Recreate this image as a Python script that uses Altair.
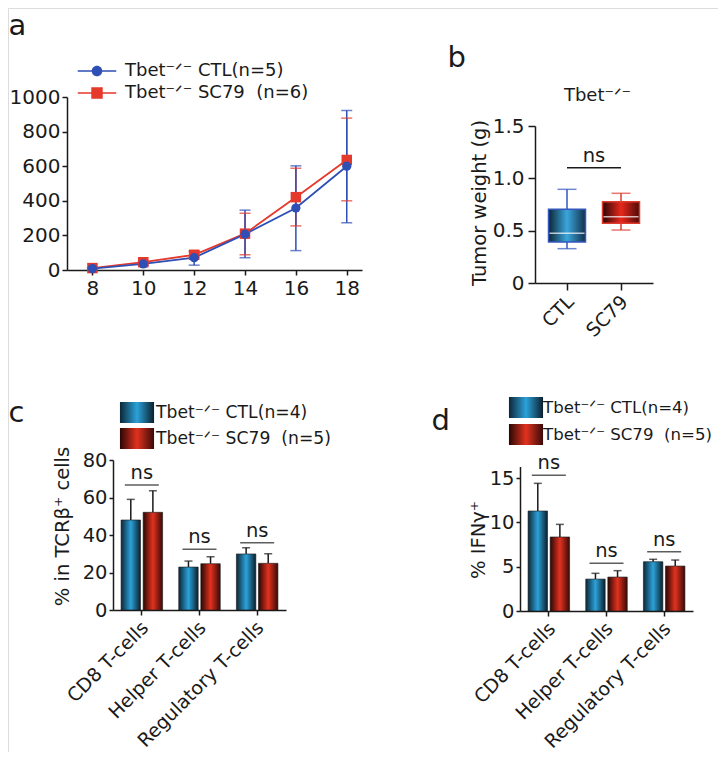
import altair as alt
import pandas as pd

FONT = "DejaVu Sans"
INK = "#1a1a1a"
BLUE = "#2d4fb6"
RED = "#e5392c"
SUP = "\u207b\u141f\u207b"  # superscript -/-
W, H = 710, 744

# ---------------- panel a: tumour growth ----------------
days = [8, 10, 12, 14, 16, 18]
a_series = ["Tbet" + SUP + " CTL(n=5)", "Tbet" + SUP + " SC79\u00a0 (n=6)"]
a_ctl_mean = [8, 35, 71, 207, 358, 600]
a_ctl_lo = [4, 27, 28, 71, 112, 273]
a_ctl_hi = [13, 43, 111, 346, 602, 922]
a_sc_mean = [11, 45, 88, 210, 421, 636]
a_sc_lo = [6, 37, 73, 88, 255, 400]
a_sc_hi = [16, 53, 106, 328, 588, 878]
a_yticks = [0, 200, 400, 600, 800, 1000]

# ---------------- panel b: tumour weight ----------------
b_groups = ["CTL", "SC79"]
b_title = "Tbet" + SUP
b_min = [0.328, 0.506]
b_q1 = [0.392, 0.570]
b_med = [0.475, 0.634]
b_q3 = [0.704, 0.777]
b_max = [0.895, 0.857]
b_ns = 1.10
b_yticks = [0, 0.5, 1.0, 1.5]

# ---------------- panels c, d: T-cell subsets ----------------
cell_types = ["CD8 T-cells", "Helper T-cells", "Regulatory T-cells"]
cd_series = ["Tbet" + SUP + " CTL(n=4)", "Tbet" + SUP + " SC79\u00a0 (n=5)"]
c_ctl = [48.0, 22.9, 29.9]
c_ctl_hi = [59.0, 26.1, 33.2]
c_sc = [52.1, 24.7, 24.9]
c_sc_hi = [63.6, 28.4, 30.0]
c_ns = [66.7, 32.4, 35.9]
c_yticks = [0, 20, 40, 60, 80]
d_ctl = [11.28, 3.60, 5.56]
d_ctl_hi = [14.4, 4.25, 5.83]
d_sc = [8.35, 3.83, 5.07]
d_sc_hi = [9.77, 4.55, 5.75]
d_ns = [15.3, 5.38, 6.69]
d_yticks = [0, 5, 10, 15]


def grad(left, mid, right):
    return {"expr": "{gradient: 'linear', x1: 0, y1: 0, x2: 1, y2: 0, stops: ["
            f"{{offset: 0, color: '{left}'}}, {{offset: 0.5, color: '{mid}'}}, "
            f"{{offset: 1, color: '{right}'}}]}}"}


BAR_GRAD = [grad("#0c2737", "#2ca2da", "#0a1f2c"), grad("#2a0705", "#e2321f", "#3a0a08")]
BOX_GRAD = [grad("#0d2535", "#3aa6dc", "#12304a"), grad("#2a0505", "#e8281c", "#4a0a08")]
BOX_EDGE = ["#3457c0", "#e03a2c"]

PATH_C = "M-1.75,-0.07H1.75V0.07H-1.75Z M-0.48,0A0.48,0.48 0 1,1 0.48,0A0.48,0.48 0 1,1 -0.48,0Z"
PATH_S = "M-1.75,-0.07H1.75V0.07H-1.75Z M-0.52,-0.52H0.52V0.52H-0.52Z"
PATH_SWATCH = "M-1.55,-0.95H1.55V0.95H-1.55Z"


def axis(orient, offset, size, **kw):
    base = dict(orient=orient, offset=offset, grid=False, domainColor=INK, domainWidth=1.5,
                tickColor=INK, tickWidth=1.5, labelFont=FONT, labelFontSize=size,
                labelColor=INK, titleFont=FONT, titleColor=INK, titleFontWeight="normal")
    base.update(kw)
    return alt.Axis(**base)


def letter(text, tx, ty, baseline="alphabetic"):
    return dict(title=text, titleX=tx, titleY=ty, titleAngle=0, titleAlign="left",
                titleBaseline=baseline, titleFontSize=29)


# ================= panel a =================
a_df = pd.DataFrame({
    "day": days * 2,
    "series": [a_series[1]] * len(days) + [a_series[0]] * len(days),
    "mean": a_sc_mean + a_ctl_mean,
    "lo": a_sc_lo + a_ctl_lo,
    "hi": a_sc_hi + a_ctl_hi,
})
a_xaxis = axis("bottom", 262 - H, 20, values=days, format="d", tickSize=5, labelPadding=3,
               labelFlush=False, **letter("a", 0, -259, "top"))
a_yaxis = axis("left", -59, 20, values=a_yticks, format="d", tickSize=5, labelPadding=2,
               title=b_title, titleX=530, titleY=92, titleAngle=0, titleAlign="center",
               titleBaseline="alphabetic", titleFontSize=18)
a_xs = alt.Scale(domain=[7, 18.6], range=[59, 354], nice=False, zero=False)
a_ys = alt.Scale(domain=[0, 1000], range=[262, 89], nice=False)


def ax(f="day"):
    return alt.X(f"{f}:Q", scale=a_xs, axis=a_xaxis)


def ay(f):
    return alt.Y(f"{f}:Q", scale=a_ys, axis=a_yaxis)


# drawing scales list the series in reverse order so they never merge with the legend
a_draw_dom = [a_series[1], a_series[0]]
a_stroke = alt.Stroke("series:N", scale=alt.Scale(domain=a_draw_dom, range=[RED, BLUE]), legend=None)
a_fill = alt.Fill("series:N", scale=alt.Scale(domain=a_draw_dom, range=[RED, BLUE]), legend=None)
base_a = alt.Chart(a_df)
a_lines = base_a.mark_line(strokeWidth=1.8).encode(x=ax(), y=ay("mean"), stroke=a_stroke)
a_rules = base_a.mark_rule(strokeWidth=1.5).encode(x=ax(), y=ay("lo"), y2="hi", stroke=a_stroke)
a_cap_lo = base_a.mark_tick(orient="horizontal", size=11, thickness=1.5).encode(x=ax(), y=ay("lo"), fill=a_fill)
a_cap_hi = base_a.mark_tick(orient="horizontal", size=11, thickness=1.5).encode(x=ax(), y=ay("hi"), fill=a_fill)
a_pts_sc = base_a.transform_filter(alt.datum.series == a_series[1]).mark_point(
    filled=True, shape="square", size=110, opacity=1).encode(x=ax(), y=ay("mean"), fill=a_fill)
a_pts_ctl = base_a.transform_filter(alt.datum.series == a_series[0]).mark_point(
    filled=True, shape="circle", size=85, opacity=1).encode(x=ax(), y=ay("mean"), fill=a_fill)
legA = alt.Legend(title=None, orient="none", legendX=78, legendY=52, symbolSize=484,
                  symbolOpacity=1, symbolStrokeWidth=0, labelFont=FONT, labelFontSize=18,
                  labelColor=INK, labelOffset=17, rowPadding=2, labelLimit=400)
a_leg = alt.Chart(pd.DataFrame({"series": a_series})).mark_point(filled=True, opacity=0, size=484).encode(
    color=alt.Color("series:N", scale=alt.Scale(domain=a_series, range=[BLUE, RED]), legend=legA),
    shape=alt.Shape("series:N", scale=alt.Scale(domain=a_series, range=[PATH_C, PATH_S]), legend=legA),
)
panel_a = alt.layer(a_lines, a_rules, a_cap_lo, a_cap_hi, a_pts_sc, a_pts_ctl, a_leg)

# ================= panel b =================
b_pos = list(range(len(b_groups)))
b_df = pd.DataFrame({"pos": b_pos, "group": b_groups, "mn": b_min, "q1": b_q1,
                     "med": b_med, "q3": b_q3, "mx": b_max})
b_ns_df = pd.DataFrame({"x0": [b_pos[0]], "x1": [b_pos[1]], "y": [b_ns],
                        "mid": [(b_pos[0] + b_pos[1]) / 2], "label": ["ns"]})
b_label_expr = "[" + ",".join(f"'{g}'" for g in b_groups) + "][datum.value]"
b_xaxis = axis("bottom", 275 - H, 19, values=b_pos, labelExpr=b_label_expr, labelAngle=315,
               labelAlign="right", labelBaseline="top", tickSize=7, labelPadding=2,
               labelOffset=-3, labelFlush=False, **letter("b", 439, -217))
b_yaxis = axis("left", -527, 20, values=b_yticks,
               labelExpr="datum.value == 0 ? '0' : format(datum.value, '.1f')",
               tickSize=7, labelPadding=4, title="Tumor weight (g)", titleX=-46, titleY=194.5,
               titleAngle=270, titleAlign="center", titleBaseline="bottom", titleFontSize=19.5)
b_xs = alt.Scale(domain=[-0.5, 1.5], range=[527, 645], nice=False, zero=False)
b_ys = alt.Scale(domain=[0, 1.5], range=[275, 118], nice=False)


def bx(f="pos"):
    return alt.X(f"{f}:Q", scale=b_xs, axis=b_xaxis)


def by(f):
    return alt.Y(f"{f}:Q", scale=b_ys, axis=b_yaxis)


b_stroke = alt.Stroke("group:N", scale=alt.Scale(domain=b_groups, range=BOX_EDGE), legend=None)
b_color = alt.Color("group:N", scale=alt.Scale(domain=b_groups, range=BOX_EDGE), legend=None)
b_fill = alt.Fill("group:N", scale=alt.Scale(domain=b_groups, range=BOX_GRAD), legend=None)
base_b = alt.Chart(b_df)
b_whisk = base_b.mark_rule(strokeWidth=1.5).encode(x=bx(), y=by("mn"), y2="mx", stroke=b_stroke)
b_cap_lo = base_b.mark_tick(orient="horizontal", size=19, thickness=1.5).encode(x=bx(), y=by("mn"), color=b_color)
b_cap_hi = base_b.mark_tick(orient="horizontal", size=19, thickness=1.5).encode(x=bx(), y=by("mx"), color=b_color)
b_box = base_b.mark_bar(size=37, strokeWidth=1.5).encode(x=bx(), y=by("q1"), y2="q3", fill=b_fill, stroke=b_stroke)
b_med_t = base_b.mark_tick(orient="horizontal", size=35, thickness=1.5, color="white").encode(x=bx(), y=by("med"))
b_ns_rule = alt.Chart(b_ns_df).mark_rule(strokeWidth=1.5, color=INK).encode(x=bx("x0"), x2="x1", y=by("y"))
b_ns_text = alt.Chart(b_ns_df).mark_text(dy=-6, baseline="alphabetic", font=FONT, fontSize=19.5,
                                         color=INK).encode(x=bx("mid"), y=by("y"), text="label:N")
panel_b = alt.layer(b_whisk, b_cap_lo, b_cap_hi, b_box, b_med_t, b_ns_rule, b_ns_text)


# ================= panels c and d =================
def bar_panel(ctl, ctl_hi, sc, sc_hi, ns, yticks, ydomain, xrange, yrange, letter_kw,
              ytitle, ytitle_x, ytitle_y, leg_x, leg_y, leg_off, leg_pad, leg_font):
    df = pd.DataFrame({
        "group": cell_types * 2,
        "series": [cd_series[0]] * 3 + [cd_series[1]] * 3,
        "value": ctl + sc,
        "hi": ctl_hi + sc_hi,
    })
    ns_df = pd.DataFrame({"group": cell_types, "ns": ns, "label": ["ns"] * len(ns)})
    xaxis = axis("bottom", yrange[0] - H, 19, labelAngle=315, labelAlign="right",
                 labelBaseline="top", tickSize=5, labelPadding=3, labelOffset=-3, **letter_kw)
    yaxis = axis("left", -xrange[0], 19.5, values=yticks, tickSize=4, labelPadding=2,
                 title=ytitle, titleX=ytitle_x, titleY=ytitle_y, titleAngle=270,
                 titleAlign="center", titleBaseline="bottom", titleFontSize=19.5)
    xs = alt.Scale(domain=cell_types, range=xrange, paddingInner=0.28, paddingOuter=0.14)
    ys = alt.Scale(domain=ydomain, range=yrange, nice=False)

    def X():
        return alt.X("group:N", sort=cell_types, scale=xs, axis=xaxis)

    def Y(f):
        return alt.Y(f"{f}:Q", scale=ys, axis=yaxis)

    xo = alt.XOffset("series:N", sort=cd_series,
                     scale=alt.Scale(domain=cd_series, paddingInner=0.12, paddingOuter=0))
    leg = alt.Legend(title=None, orient="none", legendX=leg_x, legendY=leg_y, symbolSize=484,
                     symbolType=PATH_SWATCH, symbolStrokeWidth=0, labelFont=FONT,
                     labelFontSize=leg_font, labelColor=INK, labelOffset=leg_off,
                     rowPadding=leg_pad, labelLimit=400)
    base = alt.Chart(df)
    bars = base.mark_bar(stroke=INK, strokeWidth=0.6).encode(
        x=X(), xOffset=xo, y=Y("value"),
        fill=alt.Fill("series:N", scale=alt.Scale(domain=cd_series, range=BAR_GRAD), legend=leg))
    err = base.mark_rule(color=INK, strokeWidth=1.5).encode(x=X(), xOffset=xo, y=Y("value"), y2="hi")
    cap = base.mark_tick(orient="horizontal", size=8, thickness=1.5, color=INK).encode(
        x=X(), xOffset=xo, y=Y("hi"))
    nsb = alt.Chart(ns_df).mark_tick(orient="horizontal", size=34, thickness=1.5, color=INK).encode(
        x=X(), y=Y("ns"))
    nst = alt.Chart(ns_df).mark_text(dy=-6, baseline="alphabetic", font=FONT, fontSize=19.5,
                                     color=INK).encode(x=X(), y=Y("ns"), text="label:N")
    return alt.layer(bars, err, cap, nsb, nst)


panel_c = bar_panel(c_ctl, c_ctl_hi, c_sc, c_sc_hi, c_ns, c_yticks, [0, 80], [105, 278], [602, 452],
                    letter("c", 0, -189), "% in TCRβ\u207a cells", -41, 518,
                    118, 393.5, 8, 4, 17.2)
panel_d = bar_panel(d_ctl, d_ctl_hi, d_sc, d_sc_hi, d_ns, d_yticks, [0, 16.3], [512, 685], [603, 458.5],
                    letter("d", 423, -182), "% IFNγ\u207a", -32, 531.5,
                    507, 388.5, 6, 5, 16.6)

chart = alt.layer(panel_a, panel_b, panel_c, panel_d).resolve_scale(
    x="independent", y="independent", xOffset="independent", color="independent",
    fill="independent", stroke="independent", shape="independent",
).resolve_axis(x="independent", y="independent").resolve_legend(
    color="independent", fill="independent", stroke="independent", shape="independent",
).properties(
    width=W, height=H, padding=0, autosize=alt.AutoSizeParams(type="none"),
).configure_view(stroke="transparent", strokeWidth=0).configure(font=FONT)

chart.save("out.html", embed_options={"renderer": "svg", "actions": False})
